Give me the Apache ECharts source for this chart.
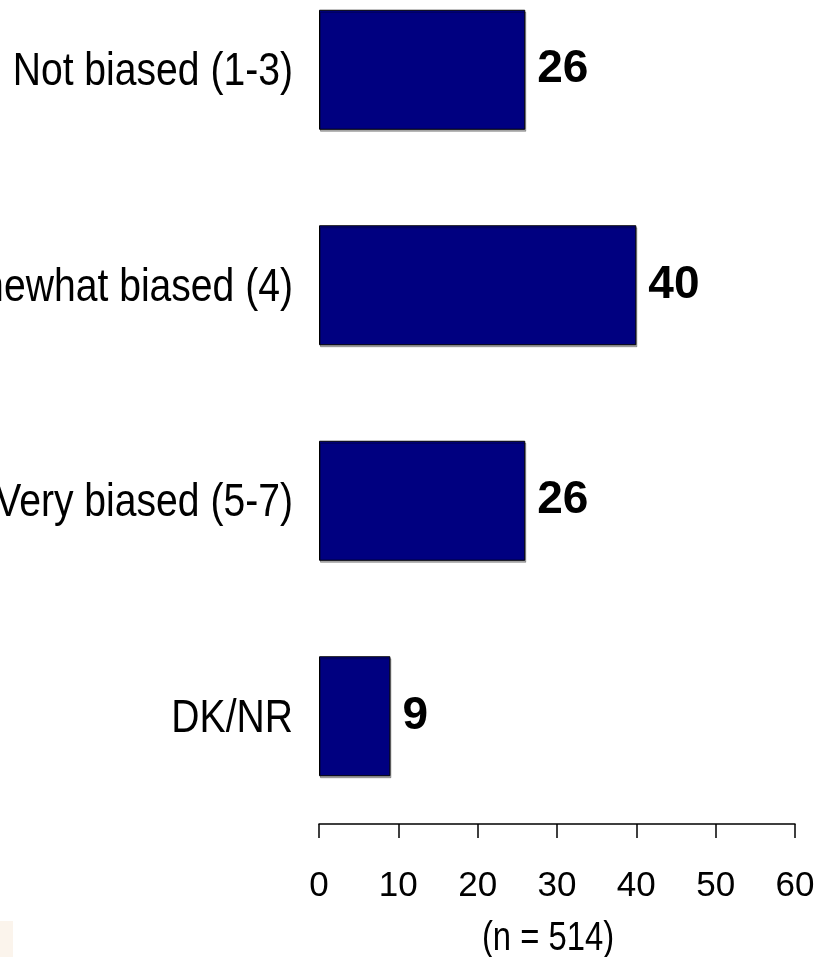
<!DOCTYPE html>
<html>
<head>
<meta charset="utf-8">
<script src="https://cdn.jsdelivr.net/npm/echarts@6/dist/echarts.min.js"></script>
<style>
html,body{margin:0;padding:0;background:#fff;}
#c{width:815px;height:957px;}
</style>
</head>
<body>
<div id="c"></div>
<script>
const categories = ["Not biased (1-3)", "Somewhat biased (4)", "Very biased (5-7)", "DK/NR"];
const values = [26, 40, 26, 9];
const xTicks = [0, 10, 20, 30, 40, 50, 60];
const axisNote = "(n = 514)";
const copyright = "Copyright 2003";

const sans = "'Liberation Sans', Arial, sans-serif";
const chart = echarts.init(document.getElementById('c'), null, {renderer: 'canvas'});
const option = {
  animation: false,
  backgroundColor: '#ffffff',
  grid: {left: 319, right: 20, top: -38, bottom: 133, containLabel: false, outerBoundsMode: 'none'},
  xAxis: {
    type: 'value',
    min: xTicks[0],
    max: xTicks[xTicks.length - 1],
    interval: xTicks[1] - xTicks[0],
    axisLine: {show: true, lineStyle: {color: '#000', width: 1.5}},
    axisTick: {show: true, length: 14, lineStyle: {color: '#000', width: 1.5}},
    splitLine: {show: false},
    axisLabel: {fontFamily: sans, fontSize: 35, color: '#000', margin: 45}
  },
  yAxis: {
    type: 'category',
    inverse: true,
    data: categories,
    axisLine: {show: false},
    axisTick: {show: false},
    axisLabel: {show: false}
  },
  series: [{
    type: 'bar',
    data: values,
    barWidth: 120,
    itemStyle: {
      color: '#000080',
      borderColor: '#000',
      borderWidth: 1,
      shadowColor: 'rgba(0,0,0,0.3)',
      shadowOffsetX: 1,
      shadowOffsetY: 2
    },
    label: {
      show: true,
      position: 'right',
      distance: 12,
      fontFamily: sans,
      fontWeight: 'bold',
      fontSize: 46,
      color: '#000'
    }
  }]
};
chart.setOption(option);

// category labels drawn as condensed text, positioned through the axis scale
const catLabels = categories.map(function (cat) {
  const y = chart.convertToPixel({yAxisIndex: 0}, cat);
  return {
    type: 'text', x: 293, y: y + 3, scaleX: 0.85,
    style: {text: cat, font: "46px " + sans, fill: '#000', align: 'right', verticalAlign: 'middle'}
  };
});
const axisMid = chart.convertToPixel({xAxisIndex: 0}, 30);
chart.setOption({
  graphic: catLabels.concat([
    {type: 'rect', left: 0, top: 921, shape: {width: 13, height: 36}, style: {fill: '#fbf4ec'}},
    {type: 'text', x: axisMid - 9, y: 939, scaleX: 0.82, style: {text: axisNote, font: "40px " + sans, fill: '#000', align: 'center', verticalAlign: 'middle'}},
    {type: 'text', x: 32, y: 956, style: {text: copyright, font: "24px " + sans, fill: '#4b4b78', align: 'left', verticalAlign: 'alphabetic'}}
  ])
});
</script>
</body>
</html>
